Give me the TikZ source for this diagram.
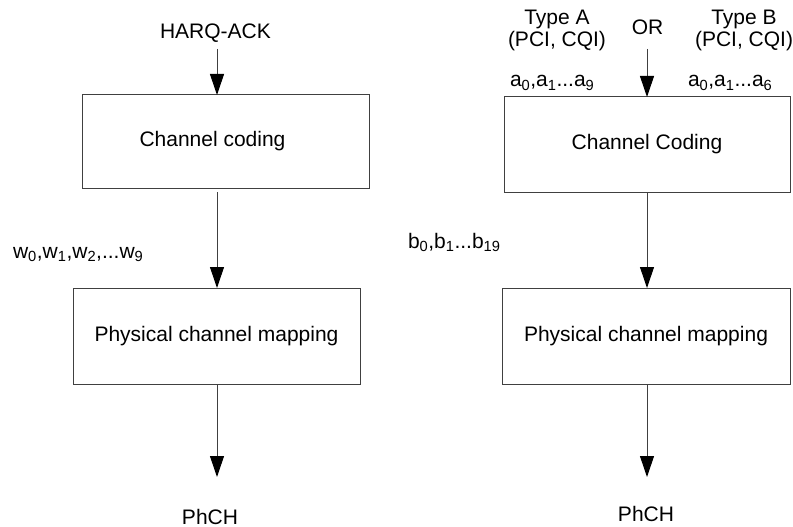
\documentclass[tikz,border=0pt]{standalone}
\usepackage{fontspec}
\setmainfont{Liberation Sans}
\usetikzlibrary{arrows.meta}
\begin{document}
\begin{tikzpicture}[x=1pt,y=-1pt,
  lbl/.style={inner sep=0pt, outer sep=0pt, font=\fontsize{21pt}{22pt}\selectfont},
  box/.style={draw=black!75, line width=1pt, inner sep=0pt, outer sep=0pt, font=\fontsize{21pt}{22pt}\selectfont},
  arr/.style={draw=black!75, line width=1pt, -{Triangle[width=14pt,length=21pt,color=black]}}]
\useasboundingbox (0,0) rectangle (793,527);
% boxes
\node[box, minimum width=287pt, minimum height=93pt] (cc1) at (225.5,141.5) {Channel coding\hspace*{26pt}};
\node[box, minimum width=287pt, minimum height=96pt] (pcm1) at (216.5,336) {Physical channel mapping};
\node[box, minimum width=286pt, minimum height=95pt] (cc2) at (647,144.5) {Channel Coding};
\node[box, minimum width=288pt, minimum height=96pt] (pcm2) at (646,336) {Physical channel mapping};
% labels
\node[lbl, anchor=base] (harq) at (215.5,39) {HARQ-ACK};
\node[lbl, align=center] (typea) at (557,30.5) {Type A\\(PCI, CQI)};
\node[lbl, anchor=base] (or) at (647.5,35) {OR};
\node[lbl, align=center] (typeb) at (744,30.5) {Type B\\(PCI, CQI)};
\node[lbl, anchor=base west] (aa) at (510,87) {a\textsubscript{0},a\textsubscript{1}...a\textsubscript{9}};
\node[lbl, anchor=base west] (ab) at (688,87) {a\textsubscript{0},a\textsubscript{1}...a\textsubscript{6}};
\node[lbl, anchor=base west] (wl) at (13,258) {w\textsubscript{0},w\textsubscript{1},w\textsubscript{2},...w\textsubscript{9}};
\node[lbl, anchor=base west] (bl) at (408,248) {b\textsubscript{0},b\textsubscript{1}...b\textsubscript{19}};
\node[lbl, anchor=base] (phch1) at (210,524) {PhCH};
\node[lbl, anchor=base] (phch2) at (646,521) {PhCH};
% connectors
\coordinate (s1) at (217,49);
\draw[arr] (s1) -- (s1 |- cc1.north);
\coordinate (s2) at (217,192);
\draw[arr] (s2) -- (s2 |- pcm1.north);
\coordinate (e3) at (217,477);
\draw[arr] (e3 |- pcm1.south) -- (e3);
\coordinate (s4) at (647,49);
\draw[arr] (s4) -- (s4 |- cc2.north);
\draw[arr] (cc2.south) -- (cc2.south |- pcm2.north);
\coordinate (e6) at (647,477);
\draw[arr] (e6 |- pcm2.south) -- (e6);
\end{tikzpicture}
\end{document}
